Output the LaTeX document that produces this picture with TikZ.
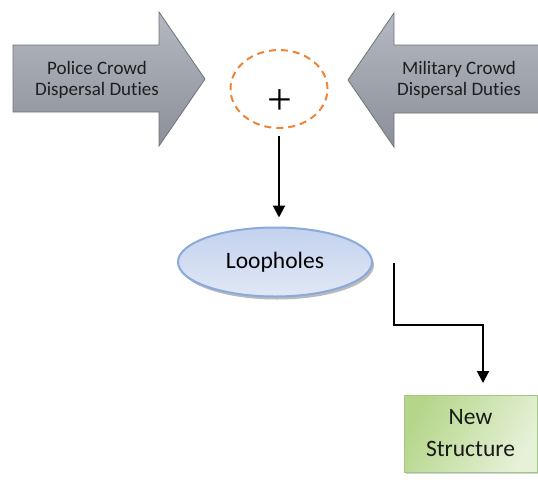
\documentclass[tikz,border=0pt]{standalone}
\usepackage{fontspec}
\setmainfont{Carlito}[Ligatures=NoCommon]
\newfontfamily\plusfont{Liberation Serif}
\usetikzlibrary{shapes.geometric,shadows,arrows.meta}
\definecolor{arrowtop}{HTML}{B4B9C1}
\definecolor{arrowbot}{HTML}{8A8F99}
\definecolor{arrowline}{HTML}{6E737B}
\definecolor{dashorange}{HTML}{EE8434}
\definecolor{loopfillA}{HTML}{C3D2EE}
\definecolor{loopfillB}{HTML}{E1E8F6}
\definecolor{loopline}{HTML}{8AAADC}
\definecolor{nsA}{HTML}{B5D68A}
\definecolor{nsB}{HTML}{E6F1D8}
\definecolor{nsline}{HTML}{A3C585}
\definecolor{txtdark}{HTML}{1E1E1E}
\tikzset{
  bigarrow/.style={draw=arrowline, line width=0.8pt, top color=arrowtop, bottom color=arrowbot, line join=miter},
  arrowtext/.style={align=center, text=txtdark, font=\fontsize{19}{21}\selectfont, inner sep=0pt},
  joinell/.style={ellipse, draw=dashorange, line width=2pt, dash pattern=on 7pt off 5pt, minimum width=97pt, minimum height=78pt, inner sep=0pt},
  loopell/.style={ellipse, draw=loopline, line width=2pt, top color=loopfillA, bottom color=loopfillB, minimum width=194pt, minimum height=69pt, inner sep=0pt, font=\fontsize{23.5}{26}\selectfont, drop shadow={shadow xshift=2pt, shadow yshift=-3pt, fill=black!45, opacity=0.6}},
  nsbox/.style={rectangle, draw=nsline, line width=1pt, left color=nsA, right color=nsB, shading angle=60, minimum width=133pt, minimum height=77pt, inner sep=0pt, align=center, text=black!90, font=\fontsize{23.5}{32}\selectfont, drop shadow={shadow xshift=2pt, shadow yshift=-2pt, fill=black!35, opacity=0.5}},
  conn/.style={line width=2pt, -{Triangle[width=12pt,length=12pt]}}
}
\begin{document}
\begin{tikzpicture}[x=1pt,y=-1pt]
\useasboundingbox (0,0) rectangle (538,483);
% big arrows
\draw[bigarrow] (13,45) -- (159,45) -- (159,12) -- (205,79) -- (159,146) -- (159,112) -- (13,112) -- cycle;
\draw[bigarrow] (545,45) -- (394,45) -- (394,13) -- (348,80) -- (394,147) -- (394,113) -- (545,113) -- cycle;
\node[arrowtext] (police) at (97,80) {Police Crowd\\Dispersal Duties};
\node[arrowtext] (military) at (459,80) {Military Crowd\\Dispersal Duties};
% join
\node[joinell] (join) at (279,89) {};
\node[inner sep=0pt, font=\plusfont\fontsize{44}{44}\selectfont] (plus) at (280,102) {+};
% loopholes
\node[loopell] (loop) at (275,262) {Loopholes};
% new structure
\node[nsbox] (ns) at (470.5,433.5) {New\\Structure};
% connectors
\draw[conn, shorten <=7pt, shorten >=9pt] (join.south) -- (join.south |- loop.north);
\coordinate (elbstart) at (394,263);
\coordinate (elbend) at (483,383);
\draw[line width=2pt] (elbstart) -- (394,325) -- (483,325) -- (483,330);
\draw[conn] (483,324) -- (elbend);
\end{tikzpicture}
\end{document}
